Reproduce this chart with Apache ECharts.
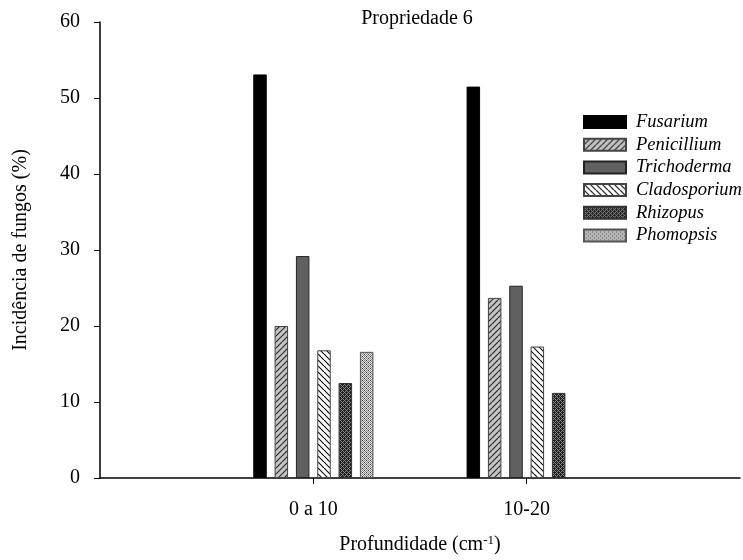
<!DOCTYPE html>
<html>
<head>
<meta charset="utf-8">
<script src="https://cdn.jsdelivr.net/npm/echarts@6/dist/echarts.min.js"></script>
<style>
  html, body { margin: 0; padding: 0; background: #fff; }
  #chart { width: 743px; height: 560px; }
</style>
</head>
<body>
<div id="chart"></div>
<script>
const categories = ['', '0 a 10', '10-20', '']
const fungi = ['Fusarium', 'Penicillium', 'Trichoderma', 'Cladosporium', 'Rhizopus', 'Phomopsis']
const fusarium = [null, 53.1, 51.5, null]
const penicillium = [null, 20.0, 23.7, null]
const trichoderma = [null, 29.2, 25.3, null]
const cladosporium = [null, 16.8, 17.3, null]
const rhizopus = [null, 12.5, 11.2, null]
const phomopsis = [null, 16.6, null, null]
const yTicks = [0, 10, 20, 30, 40, 50, 60]

const serif = '"Liberation Serif", "DejaVu Serif", serif'

function makePattern(size, draw) {
  const c = document.createElement('canvas')
  c.width = size
  c.height = size
  const ctx = c.getContext('2d')
  draw(ctx, size)
  return { image: c, repeat: 'repeat' }
}

// diagonal lines, dir 1 = "/", dir -1 = "\"
function hatch(bg, fg, dir) {
  return makePattern(6, (ctx, s) => {
    ctx.fillStyle = bg
    ctx.fillRect(0, 0, s, s)
    ctx.strokeStyle = fg
    ctx.lineWidth = 1.2
    ctx.beginPath()
    for (let k = -1; k <= 1; k++) {
      if (dir > 0) {
        ctx.moveTo(k * s, s)
        ctx.lineTo(k * s + s, 0)
      } else {
        ctx.moveTo(k * s, 0)
        ctx.lineTo(k * s + s, s)
      }
    }
    ctx.stroke()
  })
}

function dots(bg, fg, dark) {
  return makePattern(4, (ctx, s) => {
    ctx.fillStyle = bg
    ctx.fillRect(0, 0, s, s)
    ctx.fillStyle = fg
    ctx.fillRect(0, 0, 1, 1)
    ctx.fillRect(2, 2, 1, 1)
    ctx.fillRect(1, 1, 1, 1)
    ctx.fillRect(3, 3, 1, 1)
    ctx.fillRect(1, 3, 1, 1)
    ctx.fillRect(3, 1, 1, 1)
    if (dark) {
      ctx.fillStyle = dark
      ctx.fillRect(2, 0, 1, 1)
      ctx.fillRect(0, 2, 1, 1)
    }
  })
}

const fills = [
  '#000000',
  hatch('#c4c4c4', '#2a2a2a', 1),
  '#606060',
  hatch('#ffffff', '#111111', -1),
  dots('#1e1e1e', '#8a8a8a'),
  dots('#e2e2e2', '#8a8a8a', '#333333')
]
const borders = ['#000', '#444', '#222', '#444', '#333', '#555']
const values = [fusarium, penicillium, trichoderma, cladosporium, rhizopus, phomopsis]

const chart = echarts.init(document.getElementById('chart'), null, { renderer: 'canvas' })

const option = {
  backgroundColor: '#fff',
  animation: false,
  title: {
    text: 'Propriedade 6',
    left: 417,
    top: 9,
    padding: 0,
    textAlign: 'center',
    textStyle: { fontFamily: serif, fontSize: 20, fontWeight: 'normal', color: '#000' }
  },
  legend: {
    orient: 'vertical',
    left: 583,
    top: 112,
    padding: 0,
    icon: 'rect',
    itemWidth: 42,
    itemHeight: 12,
    itemGap: 2.7,
    data: fungi,
    textStyle: { fontFamily: serif, fontSize: 18.5, lineHeight: 20, fontStyle: 'italic', color: '#000', padding: [0, 0, 0, 5] }
  },
  grid: { left: 100, right: 1, top: 22, bottom: 78 },
  xAxis: {
    type: 'category',
    data: categories,
    boundaryGap: false,
    name: 'Profundidade (cm{sup|-1})',
    nameLocation: 'middle',
    nameGap: 56,
    nameTextStyle: {
      fontFamily: serif, fontSize: 20, color: '#000',
      rich: { sup: { fontFamily: serif, fontSize: 13, color: '#000', verticalAlign: 'top', padding: [0, 0, 9, 0] } }
    },
    axisLine: { lineStyle: { color: '#000', width: 1.5 } },
    axisTick: { length: 6, interval: (i) => i === 1 || i === 2, lineStyle: { color: '#000' } },
    axisLabel: { interval: 0, margin: 22, fontFamily: serif, fontSize: 20, color: '#000' },
    splitLine: { show: false }
  },
  yAxis: {
    type: 'value',
    min: yTicks[0],
    max: yTicks[yTicks.length - 1],
    interval: 10,
    name: 'Incidência de fungos (%)',
    nameLocation: 'middle',
    nameGap: 69,
    nameTextStyle: { fontFamily: serif, fontSize: 20, color: '#000' },
    axisLine: { show: true, lineStyle: { color: '#000', width: 1.5 } },
    axisTick: { show: true, length: 6, lineStyle: { color: '#000' } },
    axisLabel: { margin: 20, fontFamily: serif, fontSize: 20, color: '#000' },
    splitLine: { show: false }
  },
  series: fungi.map((name, i) => ({
    name: name,
    type: 'bar',
    data: values[i],
    barWidth: 13.5,
    barGap: '58%',
    itemStyle: { color: fills[i], borderColor: borders[i], borderWidth: 1 }
  }))
}

chart.setOption(option)
</script>
</body>
</html>
